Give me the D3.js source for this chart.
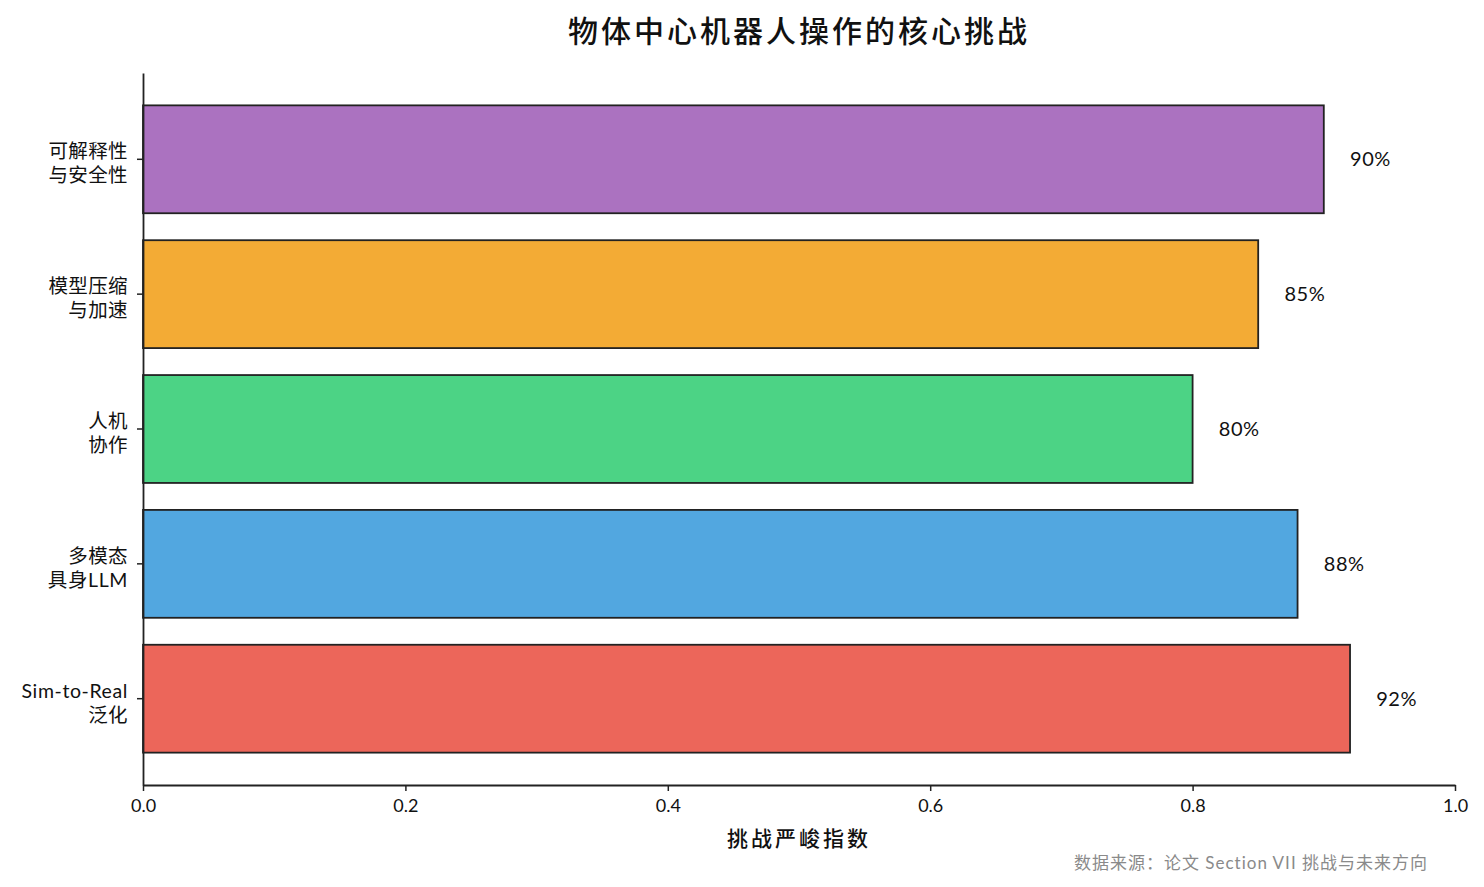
<!DOCTYPE html>
<html><head><meta charset="utf-8">
<script src="https://cdn.jsdelivr.net/npm/d3@7"></script>
<style>
body{margin:0;background:#fff;}
text{font-family:"Century Gothic","Lato","Noto Sans CJK SC",sans-serif;fill:#111;}
</style></head>
<body><svg id="c" width="1484" height="887"></svg>
<script>
const categories = ["可解释性\n与安全性","模型压缩\n与加速","人机\n协作","多模态\n具身LLM","Sim-to-Real\n泛化"];
const values = [0.90, 0.85, 0.80, 0.88, 0.92];
const colors = ["#AB72C0","#F3AB35","#4CD385","#52A7E0","#EC665A"];
const xTicks = [0, 0.2, 0.4, 0.6, 0.8, 1.0];
const title = "物体中心机器人操作的核心挑战";
const xLabel = "挑战严峻指数";
const source = "数据来源：论文 Section VII 挑战与未来方向";

const svg = d3.select("#c");
const L = 143, R = 1455, T = 73, B = 785;
const x = d3.scaleLinear().domain([0, 1]).range([L, R]);
const y = d3.scaleBand().domain(categories).range([T, B]).paddingInner(0.2).paddingOuter(0.24);

svg.selectAll("rect.bar").data(values).join("rect")
  .attr("x", x(0)).attr("y", (d,i)=>y(categories[i]))
  .attr("width", d=>x(d)-x(0)).attr("height", y.bandwidth())
  .attr("fill", (d,i)=>colors[i]).attr("stroke", "#222").attr("stroke-width", 1.8);

svg.selectAll("text.val").data(values).join("text")
  .attr("x", d=>x(d+0.02)).attr("y", (d,i)=>y(categories[i])+y.bandwidth()/2)
  .attr("dy", "0.35em").attr("font-size", 20).style("letter-spacing", "0.5px").text(d=>Math.round(d*100)+"%");

// x axis
const xa = svg.append("g").attr("transform", `translate(0,${B})`)
  .call(d3.axisBottom(x).tickValues(xTicks).tickFormat(d3.format(".1f")).tickSize(6).tickSizeOuter(0));
xa.select(".domain").attr("stroke", "#222").attr("stroke-width", 1.8);
xa.selectAll(".tick line").attr("stroke", "#222").attr("stroke-width", 1.5);
xa.selectAll(".tick text").attr("font-size", 18).attr("dy", "1.0em").style("fill", "#111");

// y axis
const ya = svg.append("g").attr("transform", `translate(${L},0)`)
  .call(d3.axisLeft(y).tickSize(6).tickSizeOuter(0).tickFormat(""));
ya.select(".domain").attr("stroke", "#222").attr("stroke-width", 1.8);
ya.selectAll(".tick line").attr("stroke", "#222").attr("stroke-width", 1.5);
categories.forEach(c => {
  const lines = c.split("\n");
  const cy = y(c) + y.bandwidth()/2 + 4;
  const t = svg.append("text").attr("text-anchor", "end").attr("font-size", 19.5);
  lines.forEach((ln, k) => {
    t.append("tspan").attr("x", L-15).attr("y", cy + (k - (lines.length-1)/2)*24).attr("dy", "0.35em")
      .style("letter-spacing", /[A-Za-z]/.test(ln) ? "0.6px" : "0.4px").text(ln);
  });
});

svg.append("text").attr("x", (L+R)/2).attr("y", 31).attr("text-anchor", "middle").attr("dy", "0.35em")
  .attr("font-size", 30).attr("font-weight", 500).style("letter-spacing", "3px").text(title);
svg.append("text").attr("x", (L+R)/2).attr("y", 839).attr("text-anchor", "middle").attr("dy", "0.35em")
  .attr("font-size", 21).attr("font-weight", 500).style("letter-spacing", "3px").text(xLabel);
svg.append("text").attr("x", 1428).attr("y", 863).attr("text-anchor", "end").attr("dy", "0.35em")
  .attr("font-size", 17).style("letter-spacing", "1px").style("fill", "#8a8a8a").text(source);
</script></body></html>
